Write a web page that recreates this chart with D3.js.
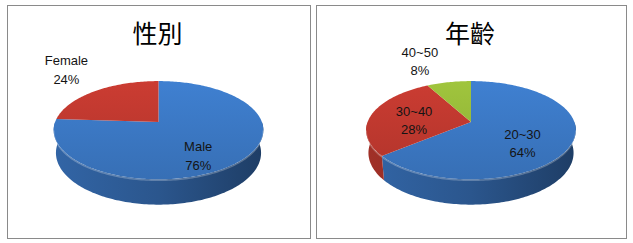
<!DOCTYPE html>
<html>
<head>
<meta charset="utf-8">
<script src="https://cdn.jsdelivr.net/npm/d3@7"></script>
<style>
html, body { margin: 0; padding: 0; background: #fff; }
svg { display: block; }
</style>
</head>
<body>
<svg id="chart" width="633" height="243"></svg>
<script>
// chart data
var genderTitle = "性別";
var genderLabels = ["Male", "Female"];
var genderValues = [76, 24];

var ageTitle = "年齡";
var ageLabels = ["20~30", "30~40", "40~50"];
var ageValues = [64, 28, 8];

var palette = ["#3c79c6", "#c0392f", "#98bb3a"];

var svg = d3.select("#chart");
var defs = svg.append("defs");

// 3d pie projection: unit circle on a tilted plane seen in perspective
var tilt = 27.5 * Math.PI / 180,
    sinT = Math.sin(tilt),
    cosT = Math.cos(tilt),
    dist = 5.32,
    focal = 550,
    depth = 0.25;

var makeProjection = function (cx, cy) {
  return function (a, r, y3) {
    var X = r * Math.sin(a), Z = r * Math.cos(a);
    var D = dist + Z * cosT - y3 * sinT;
    var v = Z * sinT + y3 * cosT;
    return [cx + focal * X / D, cy - focal * v / D];
  };
};

var line = d3.line();

var arcPoints = function (proj, a0, a1, y3) {
  var n = Math.max(2, Math.ceil((a1 - a0) / 0.02));
  return d3.range(n + 1).map(function (i) {
    return proj(a0 + (a1 - a0) * i / n, 1, y3);
  });
};

var drawPie = function (id, panel, title, labels, values) {
  var g = svg.append("g");

  g.append("rect")
   .attr("x", panel.x + 0.5)
   .attr("y", panel.y + 0.5)
   .attr("width", panel.w)
   .attr("height", panel.h)
   .attr("fill", "#fff")
   .attr("stroke", "#8a8a8a");

  var cx = panel.x + panel.w / 2;
  var cy = panel.y + 117;
  var proj = makeProjection(cx, cy);

  g.append("text")
   .attr("x", cx - 1)
   .attr("y", panel.y + 37.5)
   .attr("text-anchor", "middle")
   .style("font-family", "'Noto Sans CJK TC', 'Noto Sans CJK SC', sans-serif")
   .style("font-size", "25px")
   .attr("fill", "#000")
   .text(title);

  var total = d3.sum(values);
  var arcs = d3.pie().sort(null)(values);

  var top = proj(0, 1, 0)[1], front = proj(Math.PI, 1, 0)[1];

  arcs.forEach(function (d, i) {
    var base = d3.color(palette[i]);
    var tg = defs.append("linearGradient")
                 .attr("id", id + "-top-" + i)
                 .attr("gradientUnits", "userSpaceOnUse")
                 .attr("x1", 0).attr("x2", 0)
                 .attr("y1", top).attr("y2", front);
    tg.append("stop").attr("offset", 0).attr("stop-color", base.brighter(0.15));
    tg.append("stop").attr("offset", 1).attr("stop-color", base.darker(0.25));

    var sg = defs.append("linearGradient")
                 .attr("id", id + "-side-" + i)
                 .attr("gradientUnits", "userSpaceOnUse")
                 .attr("x1", cx - 105).attr("x2", cx + 105)
                 .attr("y1", 0).attr("y2", 0);
    sg.append("stop").attr("offset", 0).attr("stop-color", base.darker(0.5));
    sg.append("stop").attr("offset", 0.5).attr("stop-color", base.darker(0.95));
    sg.append("stop").attr("offset", 1).attr("stop-color", base.darker(1.9));
  });

  // outer walls, front half only
  arcs.forEach(function (d, i) {
    var b0 = Math.max(d.startAngle, Math.PI / 2),
        b1 = Math.min(d.endAngle, Math.PI * 1.5);
    if (b1 <= b0) return;
    var pts = arcPoints(proj, b0, b1, 0).concat(arcPoints(proj, b0, b1, -depth).reverse());
    g.append("path")
     .attr("d", line(pts) + "Z")
     .attr("fill", "url(#" + id + "-side-" + i + ")");
  });

  // top faces
  arcs.forEach(function (d, i) {
    var pts = [proj(0, 0, 0)].concat(arcPoints(proj, d.startAngle, d.endAngle, 0));
    g.append("path")
     .attr("d", line(pts) + "Z")
     .attr("fill", "url(#" + id + "-top-" + i + ")");
  });

  // light bevel along the front rim
  g.append("path")
   .attr("d", line(arcPoints(proj, Math.PI * 0.55, Math.PI * 1.45, -0.01)))
   .attr("fill", "none")
   .attr("stroke", "#fff")
   .attr("stroke-opacity", 0.25)
   .attr("stroke-width", 1.5);

  // data labels
  arcs.forEach(function (d, i) {
    var mid = (d.startAngle + d.endAngle) / 2;
    var pos;
    if (d.value / total < 0.25) {
      var rim = proj(mid, 1, 0);
      pos = [rim[0] + (Math.sin(mid) < 0 ? -29 : 29), rim[1] - 21];
    } else {
      var c = proj(mid, 0.55, 0);
      pos = [c[0] - 2, c[1] + 5 - 11 * Math.cos(mid)];
    }
    var t = g.append("text")
             .attr("text-anchor", "middle")
             .style("font-family", "'Liberation Sans', Arial, sans-serif")
             .style("font-size", "13px")
             .attr("fill", "#141414");
    t.append("tspan").attr("x", pos[0]).attr("y", pos[1] - 4.5).text(labels[i]);
    t.append("tspan").attr("x", pos[0]).attr("y", pos[1] + 14)
     .text(Math.round(d.value / total * 100) + "%");
  });
};

drawPie("gender", { x: 7, y: 5, w: 303, h: 233 }, genderTitle, genderLabels, genderValues);
drawPie("age", { x: 316, y: 5, w: 310, h: 233 }, ageTitle, ageLabels, ageValues);
</script>
</body>
</html>
